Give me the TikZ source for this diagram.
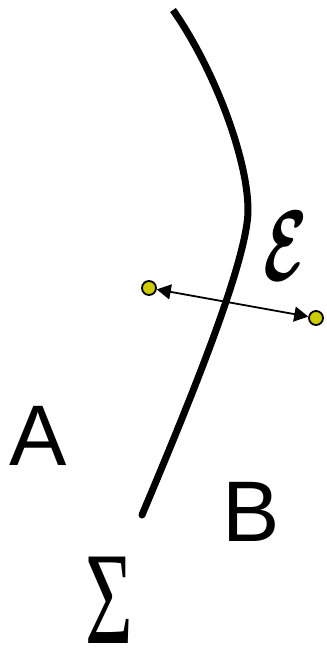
\documentclass[tikz,border=0pt]{standalone}
\usepackage{bm}
\usepackage{fontspec}
\newfontfamily\arialfont{Liberation Sans}
\newfontfamily\timesfont{Liberation Serif}
\usetikzlibrary{arrows.meta}
\definecolor{dotyellow}{RGB}{204,204,0}
\tikzset{
  boundary/.style={line width=7pt, line cap=butt},
  dot/.style={circle, draw=black, line width=1.8pt, fill=dotyellow, minimum size=14pt, inner sep=0pt},
  arr/.style={line width=1.8pt, {Triangle[length=14pt,width=15pt]}-{Triangle[length=14pt,width=15pt]}},
  lbl/.style={inner sep=0pt, outer sep=0pt}
}
\begin{document}
\begin{tikzpicture}[x=1pt,y=-1pt]
\useasboundingbox (0,0) rectangle (327,654);
\coordinate (top) at (173,10);
\coordinate (mid) at (248,210);
\coordinate (bot) at (142,515);
\draw[boundary] (top) .. controls (215,70) and (248,160) .. (mid)
  .. controls (248,262) and (184,415) .. (bot);
\fill (bot) circle (3.5pt);
\node[dot] (p1) at (149,288) {};
\node[dot] (p2) at (316,318) {};
\draw[arr] (p1) -- (p2);
\node[lbl, xscale=6.4, yscale=10] (eps) at (286,246) {$\bm{\mathcal{E}}$};
\node[lbl] (A) at (38,436) {\arialfont\fontsize{86}{86}\selectfont A};
\node[lbl] (B) at (251,512) {\arialfont\fontsize{86}{86}\selectfont B};
\node[lbl, xscale=0.62] (S) at (109,600) {\timesfont\fontsize{132}{132}\selectfont Σ};
\end{tikzpicture}
\end{document}
